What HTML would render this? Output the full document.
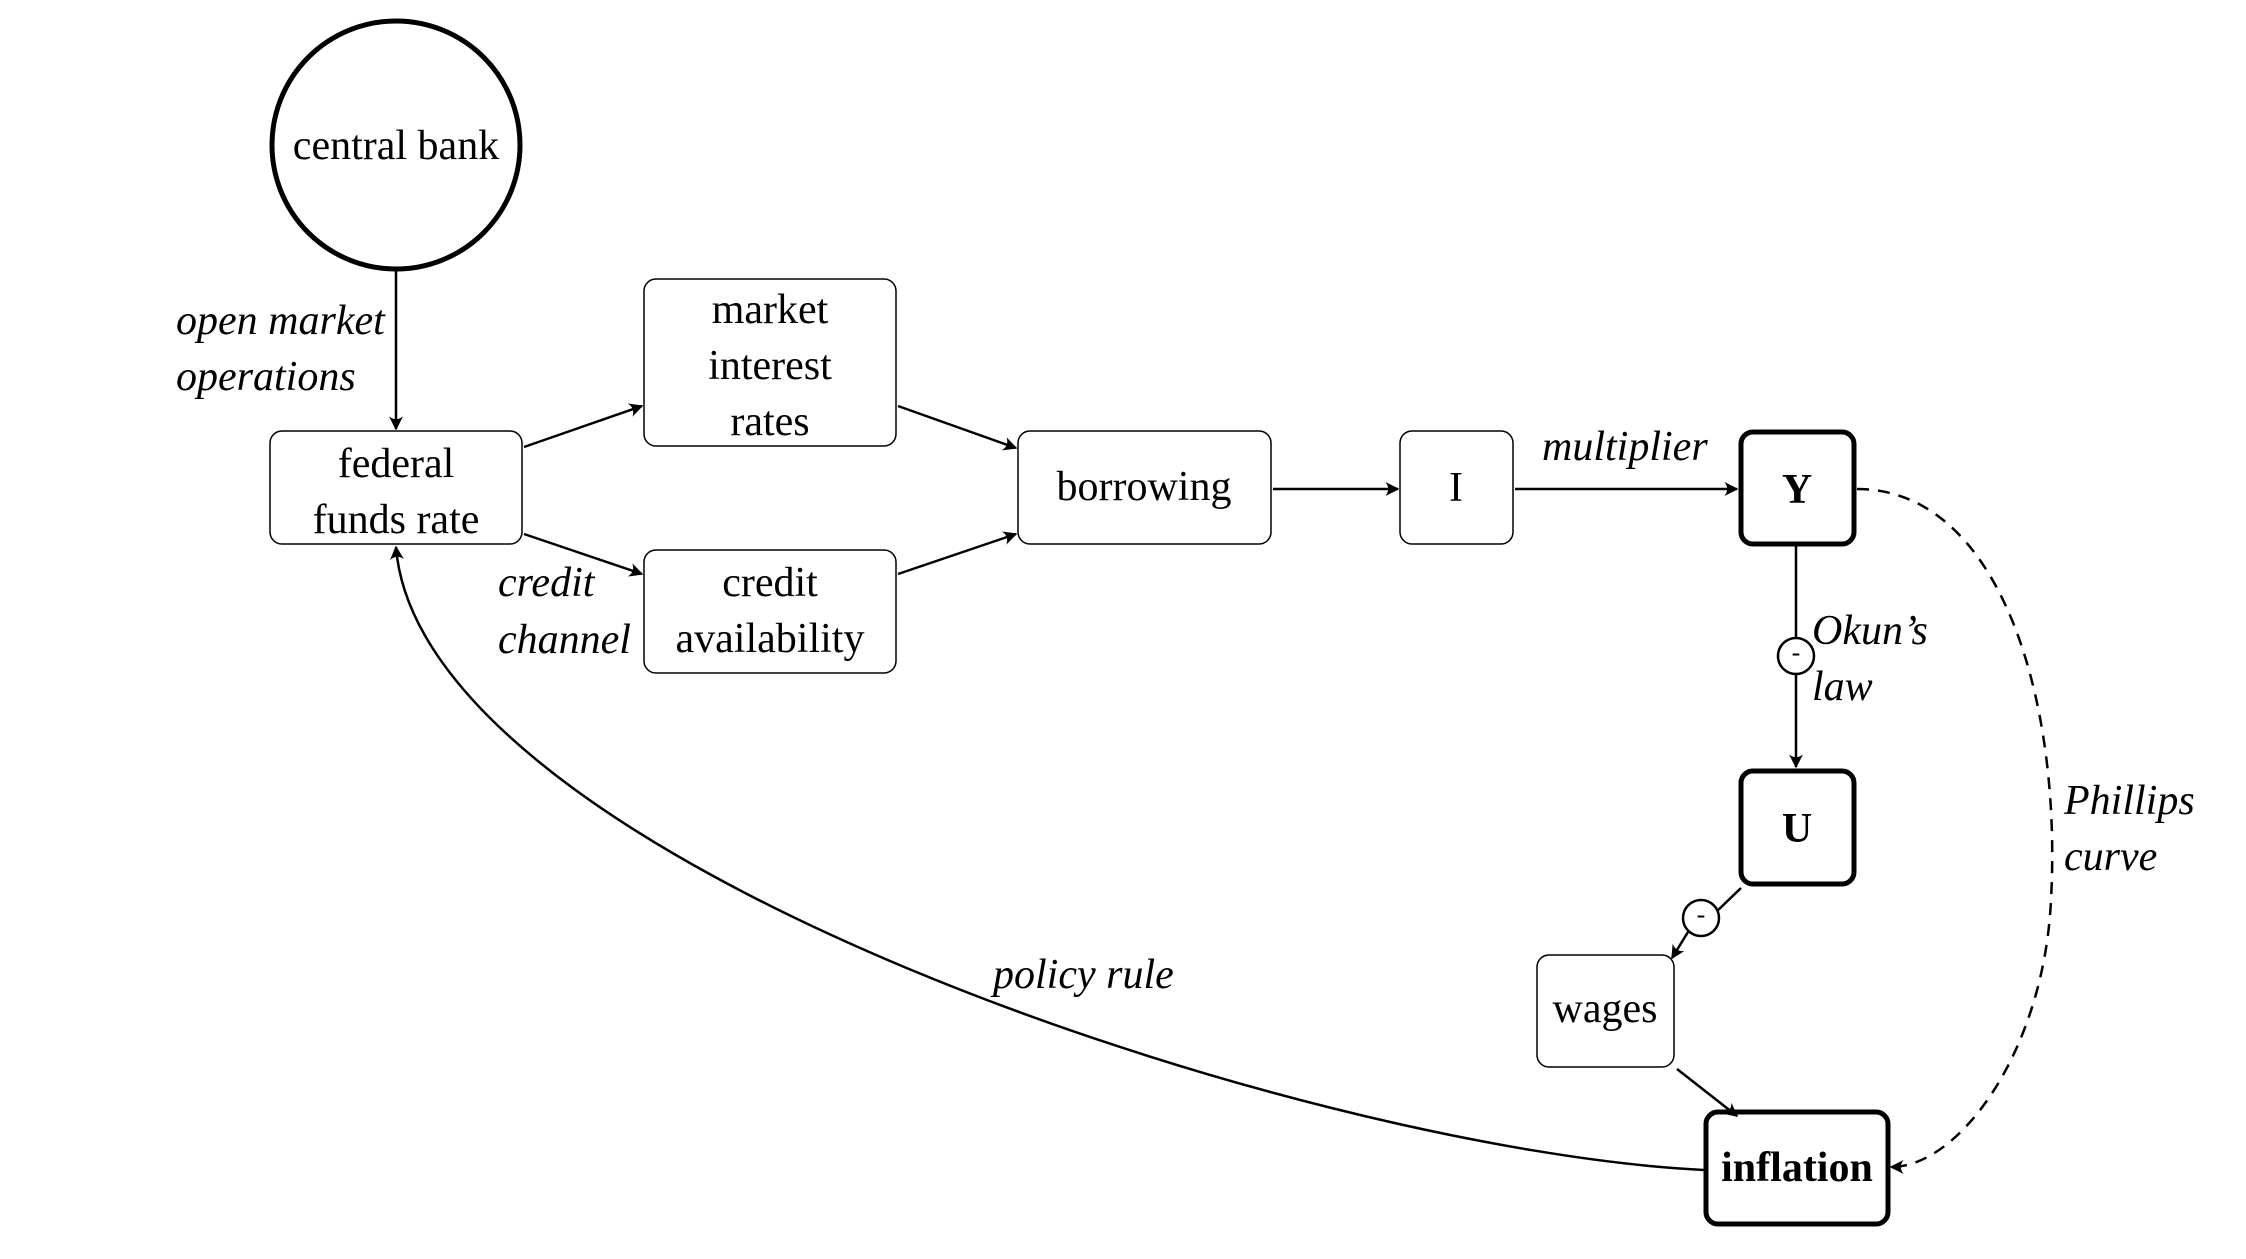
<!DOCTYPE html>
<html><head><meta charset="utf-8"><style>
html,body{margin:0;padding:0;background:#fff;}
svg{display:block}
text{font-family:"Liberation Serif",serif;font-size:42px;fill:#000}
.i{font-style:italic}
.b{font-weight:bold}
</style></head><body>
<svg width="2246" height="1259" viewBox="0 0 2246 1259" xmlns="http://www.w3.org/2000/svg">
<defs>
<marker id="ab" viewBox="0 0 10 10" refX="9" refY="5" markerWidth="14" markerHeight="14" markerUnits="userSpaceOnUse" orient="auto">
<path d="M0,0 Q4,5 0,10 L10,5 Z" fill="#000"/>
</marker>
</defs>
<g fill="none" stroke="#000">
<circle cx="396" cy="145" r="124" stroke-width="5"/>
<rect x="270" y="431" width="252" height="113" rx="12" stroke-width="1.5"/>
<rect x="644" y="279" width="252" height="167" rx="12" stroke-width="1.5"/>
<rect x="644" y="550" width="252" height="123" rx="12" stroke-width="1.5"/>
<rect x="1018" y="431" width="253" height="113" rx="12" stroke-width="1.5"/>
<rect x="1400" y="431" width="113" height="113" rx="12" stroke-width="1.5"/>
<rect x="1741" y="432" width="113" height="112" rx="12" stroke-width="5"/>
<rect x="1741" y="771" width="113" height="113" rx="12" stroke-width="5"/>
<rect x="1537" y="955" width="137" height="112" rx="12" stroke-width="1.5"/>
<rect x="1706" y="1112" width="182" height="112" rx="12" stroke-width="5"/>

<g stroke-width="2.5">
<path d="M396,271 V429" marker-end="url(#ab)"/>
<path d="M524,447 L642,406" marker-end="url(#ab)"/>
<path d="M524,534 L642,574" marker-end="url(#ab)"/>
<path d="M898,406 L1016,448" marker-end="url(#ab)"/>
<path d="M898,574 L1016,534" marker-end="url(#ab)"/>
<path d="M1273,489 H1398" marker-end="url(#ab)"/>
<path d="M1515,489 H1737" marker-end="url(#ab)"/>
<path d="M1796,546 V637" />
<path d="M1796,675 V767" marker-end="url(#ab)"/>
<path d="M1741,888 L1714,914"/>
<path d="M1688,932 L1672,958" marker-end="url(#ab)"/>
<path d="M1677,1069 L1737,1116" marker-end="url(#ab)"/>
<path d="M1704,1170 C1300,1150 420,860 396,547" marker-end="url(#ab)"/>
<path d="M1857,489 C2000,489 2062,700 2051,900 C2044,1050 1960,1167 1891,1167" stroke-dasharray="12,9" marker-end="url(#ab)"/>
</g>
<circle cx="1796" cy="656" r="18" stroke-width="2.5" fill="#fff"/>
<circle cx="1701" cy="918" r="18" stroke-width="2.5" fill="#fff"/>
</g>
<g text-anchor="middle">
<text x="396" y="159">central bank</text>
<text x="396" y="477">federal</text>
<text x="396" y="533">funds rate</text>
<text x="770" y="323">market</text>
<text x="770" y="379">interest</text>
<text x="770" y="435">rates</text>
<text x="770" y="596">credit</text>
<text x="770" y="652">availability</text>
<text x="1144" y="500">borrowing</text>
<text x="1456" y="501">I</text>
<text x="1797" y="503" class="b">Y</text>
<text x="1797" y="842" class="b">U</text>
<text x="1605" y="1022">wages</text>
<text x="1797" y="1181" class="b">inflation</text>
<text x="1796" y="661" style="font-size:26px">-</text>
<text x="1701" y="923" style="font-size:26px">-</text>
</g>
<g>
<text class="i" x="176" y="334">open market</text>
<text class="i" x="176" y="390">operations</text>
<text class="i" x="498" y="596">credit</text>
<text class="i" x="498" y="653">channel</text>
<text class="i" x="1542" y="460">multiplier</text>
<text class="i" x="1812" y="644">Okun’s</text>
<text class="i" x="1812" y="700">law</text>
<text class="i" x="2064" y="814">Phillips</text>
<text class="i" x="2064" y="870">curve</text>
<text class="i" x="993" y="988">policy rule</text>
</g>
</svg>
</body></html>
